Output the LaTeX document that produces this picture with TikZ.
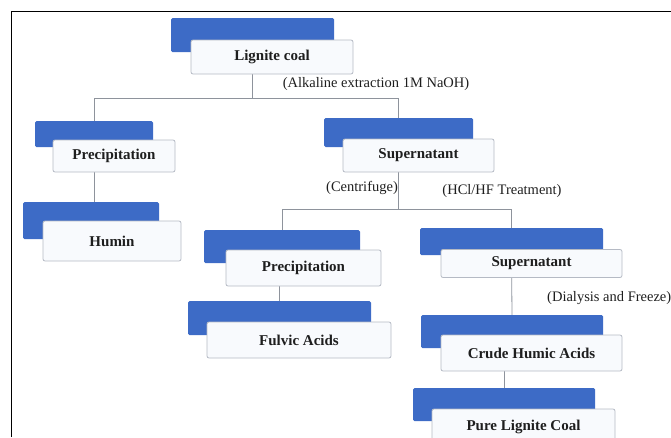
\documentclass[tikz,border=0pt]{standalone}
\usepackage{fontspec}
\setmainfont{Liberation Serif}
\usetikzlibrary{backgrounds}
\definecolor{boxblue}{HTML}{3D6BC6}
\definecolor{boxfill}{HTML}{F8FAFD}
\definecolor{boxline}{HTML}{B5BAC4}
\definecolor{connline}{HTML}{8E939C}
\definecolor{txt}{HTML}{1E1E1E}
\tikzset{
  bluebox/.style={fill=boxblue, draw=none, rounded corners=1.5pt, inner sep=0pt},
  whitebox/.style={fill=boxfill, draw=boxline, line width=0.8pt, rounded corners=2pt, inner sep=0pt,
    font=\fontsize{15}{17}\selectfont\bfseries, text=txt},
  steplabel/.style={font=\fontsize{14.5}{16}\selectfont, text=txt, inner sep=0pt},
  conn/.style={draw=connline, line width=0.8pt},
  frameline/.style={draw=black, line width=1pt}
}
\begin{document}
\begin{tikzpicture}[x=1pt,y=-1pt]
\useasboundingbox (0,0) rectangle (671,437);
\clip (0,0) rectangle (671,437);
\draw[frameline] (11,437) -- (11,11) -- (671,11);

% Lignite coal
\node[bluebox, minimum width=163pt, minimum height=34pt] (lcb) at (252.5,35) {};
\node[whitebox, minimum width=162pt, minimum height=34pt] (lc) at (272,57) {Lignite coal};
% Precipitation (left)
\node[bluebox, minimum width=118pt, minimum height=26pt] (p1b) at (94,134) {};
\node[whitebox, minimum width=122pt, minimum height=32pt] (p1) at (114,156) {Precipitation};
% Supernatant (top)
\node[bluebox, minimum width=149pt, minimum height=29pt] (s1b) at (398.5,132.5) {};
\node[whitebox, minimum width=151pt, minimum height=33pt] (s1) at (418.5,155.5) {Supernatant};
% Humin
\node[bluebox, minimum width=136pt, minimum height=37pt] (hb) at (91,220.5) {};
\node[whitebox, minimum width=138pt, minimum height=40pt] (h) at (112,241) {Humin};
% Precipitation (second)
\node[bluebox, minimum width=156pt, minimum height=33pt] (p2b) at (282,246.5) {};
\node[whitebox, minimum width=155pt, minimum height=36pt] (p2) at (303.5,268) {Precipitation};
% Supernatant (second)
\node[bluebox, minimum width=183pt, minimum height=27pt] (s2b) at (511.5,241.5) {};
\node[whitebox, minimum width=181pt, minimum height=28pt] (s2) at (531.5,263.5) {Supernatant};
% Fulvic Acids
\node[bluebox, minimum width=183pt, minimum height=34pt] (fb) at (279.5,318) {};
\node[whitebox, minimum width=184pt, minimum height=36pt] (f) at (299,340) {Fulvic Acids};
% Crude Humic Acids
\node[bluebox, minimum width=182pt, minimum height=33pt] (cb) at (512,331.5) {};
\node[whitebox, minimum width=181pt, minimum height=36pt] (c) at (531.5,353) {Crude Humic Acids};
% Pure Lignite Coal
\node[bluebox, minimum width=182pt, minimum height=33pt] (pb) at (504,404.5) {};
\node[whitebox, minimum width=183pt, minimum height=36pt] (pl) at (523.5,427) {Pure Lignite Coal};

% step labels
\node[steplabel] (lab1) at (376,84) {(Alkaline extraction 1M NaOH)};
\node[steplabel] (lab2) at (362,188) {(Centrifuge)};
\node[steplabel] (lab3) at (502,191) {(HCl/HF Treatment)};
\node[steplabel, anchor=west] (lab4) at (547,298) {(Dialysis and Freeze)};

% junctions
\coordinate (j1) at (252,98);
\coordinate (j2) at (397,209);

\begin{scope}[on background layer]
\draw[conn] (lcb.south) -- (lcb.south |- j1) -| (p1b.north);
\draw[conn] (lcb.south |- j1) -| (s1b.north);
\draw[conn] (p1b.south) -- (p1b.south |- hb.north);
\draw[conn] (s1b.south) -- (s1b.south |- j2) -| (p2b.north);
\draw[conn] (s1b.south |- j2) -| (s2b.north);
\draw[conn] (fb.north |- p2.south) -- (fb.north);
\draw[conn] (s2b.south) -- (cb.north);
\draw[conn] (pb.north |- c.south) -- (pb.north);
\end{scope}
\end{tikzpicture}
\end{document}
